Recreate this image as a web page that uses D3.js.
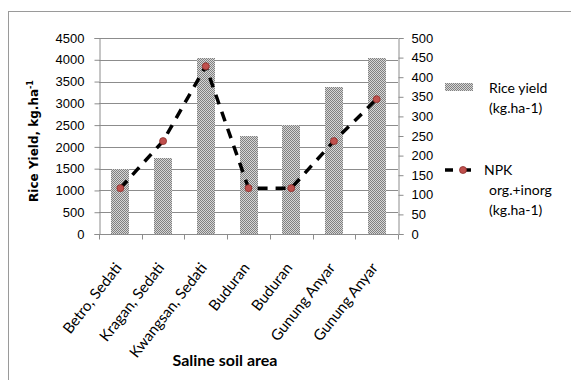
<!DOCTYPE html>
<html>
<head>
<meta charset="utf-8">
<script src="https://cdn.jsdelivr.net/npm/d3@7"></script>
<style>
  body { margin: 0; background: #fff; }
  svg { display: block; }
  .tick text { font-family: "Liberation Sans", Arial, sans-serif; font-size: 13px; fill: #000; }
</style>
</head>
<body>
<div id="chart"></div>
<script>
// data
var areas = ["Betro, Sedati", "Kragan, Sedati", "Kwangsan, Sedati", "Buduran", "Buduran", "Gunung Anyar", "Gunung Anyar"];
var riceYield = [1500, 1750, 4050, 2250, 2500, 3375, 4050];
var npk = [117, 237, 428, 117, 117, 237, 344];
var leftTicks = [0, 500, 1000, 1500, 2000, 2500, 3000, 3500, 4000, 4500];
var rightTicks = [0, 50, 100, 150, 200, 250, 300, 350, 400, 450, 500];

var width = 571, height = 380;
var plot = {left: 99, right: 398, top: 38, bottom: 234};

var svg = d3.select("#chart").append("svg")
    .attr("width", width)
    .attr("height", height);

var defs = svg.append("defs");
var pat = defs.append("pattern")
    .attr("id", "dots")
    .attr("width", 2).attr("height", 2)
    .attr("patternUnits", "userSpaceOnUse");
pat.append("rect").attr("width", 2).attr("height", 2).attr("fill", "#d6d6d6");
pat.append("rect").attr("width", 1).attr("height", 1).attr("fill", "#808080");
pat.append("rect").attr("x", 1).attr("y", 1).attr("width", 1).attr("height", 1).attr("fill", "#808080");

// outer chart border
svg.append("rect")
    .attr("x", 8.5).attr("y", 11.5)
    .attr("width", 580).attr("height", 380)
    .attr("fill", "none")
    .attr("stroke", "#9a9a9a")
    .attr("stroke-width", 1);

var x = d3.scaleBand()
    .domain(d3.range(areas.length))
    .range([plot.left, plot.right])
    .paddingInner(0.58)
    .paddingOuter(0.29);

var xTicks = d3.scaleBand()
    .domain(d3.range(areas.length))
    .range([plot.left, plot.right]);

var yL = d3.scaleLinear().domain([0, 4500]).range([plot.bottom, plot.top]);
var yR = d3.scaleLinear().domain([0, 500]).range([plot.bottom, plot.top]);

// gridlines
svg.append("g")
    .selectAll("line")
    .data(leftTicks.slice(1))
    .enter().append("line")
    .attr("x1", plot.left).attr("x2", plot.right)
    .attr("y1", function (d) { return Math.round(yL(d)) + 0.5; })
    .attr("y2", function (d) { return Math.round(yL(d)) + 0.5; })
    .attr("stroke", "#8c8c8c");

// bars
svg.append("g")
    .selectAll("rect")
    .data(riceYield)
    .enter().append("rect")
    .attr("x", function (d, i) { return Math.round(x(i)); })
    .attr("y", function (d) { return Math.round(yL(d)); })
    .attr("width", Math.round(x.bandwidth()))
    .attr("height", function (d) { return plot.bottom - Math.round(yL(d)); })
    .attr("fill", "url(#dots)");

// axes
var axisL = svg.append("g")
    .attr("transform", "translate(" + (plot.left + 0.5) + ",0)")
    .call(d3.axisLeft(yL).tickValues(leftTicks).tickFormat(d3.format("d")).tickSize(5).tickPadding(10));
var axisR = svg.append("g")
    .attr("transform", "translate(" + (plot.right + 0.5) + ",0)")
    .call(d3.axisRight(yR).tickValues(rightTicks).tickFormat(d3.format("d")).tickSize(5).tickPadding(8));
var axisB = svg.append("g")
    .attr("transform", "translate(0," + (plot.bottom + 0.5) + ")")
    .call(d3.axisBottom(xTicks).tickSize(5).tickFormat(""));

// bottom ticks on band edges, not centres
axisB.selectAll(".tick").remove();
axisB.selectAll(".edge")
    .data(d3.range(areas.length + 1))
    .enter().append("line")
    .attr("x1", function (d) { return Math.round(plot.left + d * xTicks.step()) + 0.5; })
    .attr("x2", function (d) { return Math.round(plot.left + d * xTicks.step()) + 0.5; })
    .attr("y1", 0).attr("y2", 5)
    .attr("stroke", "#8c8c8c");

[axisL, axisR, axisB].forEach(function (a) {
    a.select(".domain").attr("stroke", "#8c8c8c");
    a.selectAll(".tick line").attr("stroke", "#8c8c8c");
});
axisB.select(".domain").attr("d", "M" + plot.left + ",0H" + plot.right);

// category labels
svg.append("g")
    .selectAll("text")
    .data(areas)
    .enter().append("text")
    .attr("transform", function (d, i) {
        return "translate(" + (xTicks(i) + xTicks.bandwidth() / 2 + 2) + "," + (plot.bottom + 34) + ") rotate(-52)";
    })
    .attr("text-anchor", "end")
    .attr("font-family", "Lato, 'Open Sans', sans-serif")
    .attr("font-size", 15)
    .text(function (d) { return d; });

// NPK line
var line = d3.line()
    .x(function (d, i) { return xTicks(i) + xTicks.bandwidth() / 2; })
    .y(function (d) { return yR(d); });

svg.append("path")
    .datum(npk)
    .attr("d", line)
    .attr("fill", "none")
    .attr("stroke", "#000")
    .attr("stroke-width", 3.5)
    .attr("stroke-dasharray", "10,8");

svg.append("g")
    .selectAll("circle")
    .data(npk)
    .enter().append("circle")
    .attr("cx", function (d, i) { return xTicks(i) + xTicks.bandwidth() / 2; })
    .attr("cy", function (d) { return yR(d); })
    .attr("r", 3.5)
    .attr("fill", "#c0504d")
    .attr("stroke", "#8b2e2b")
    .attr("stroke-width", 0.8);

// axis titles
var yTitle = svg.append("text")
    .attr("transform", "translate(38,141) rotate(-90)")
    .attr("text-anchor", "middle")
    .attr("font-family", "'DejaVu Sans', Verdana, sans-serif")
    .attr("font-size", 12)
    .attr("font-weight", "bold");
yTitle.append("tspan").text("Rice Yield, kg.ha");
yTitle.append("tspan").attr("dy", -5).attr("font-size", 8).text("-1");

svg.append("text")
    .attr("x", 225).attr("y", 366)
    .attr("text-anchor", "middle")
    .attr("font-family", "Lato, 'Open Sans', sans-serif")
    .attr("font-size", 16)
    .attr("font-weight", "bold")
    .text("Saline soil area");

// legend
var legend = svg.append("g").attr("font-family", "Lato, 'Open Sans', sans-serif").attr("font-size", 14);
legend.append("rect")
    .attr("x", 445).attr("y", 83)
    .attr("width", 28).attr("height", 8)
    .attr("fill", "url(#dots)");
legend.append("text").attr("x", 489).attr("y", 93).text("Rice yield");
legend.append("text").attr("x", 489).attr("y", 113).text("(kg.ha-1)");

legend.append("line")
    .attr("x1", 445).attr("x2", 481)
    .attr("y1", 170).attr("y2", 170)
    .attr("stroke", "#000")
    .attr("stroke-width", 3.5)
    .attr("stroke-dasharray", "8,10");
legend.append("circle")
    .attr("cx", 463).attr("cy", 170).attr("r", 3.5)
    .attr("fill", "#c0504d")
    .attr("stroke", "#8b2e2b")
    .attr("stroke-width", 0.8);
legend.append("text").attr("x", 484).attr("y", 175).text("NPK");
legend.append("text").attr("x", 489).attr("y", 195).text("org.+inorg");
legend.append("text").attr("x", 489).attr("y", 215).text("(kg.ha-1)");
</script>
</body>
</html>
